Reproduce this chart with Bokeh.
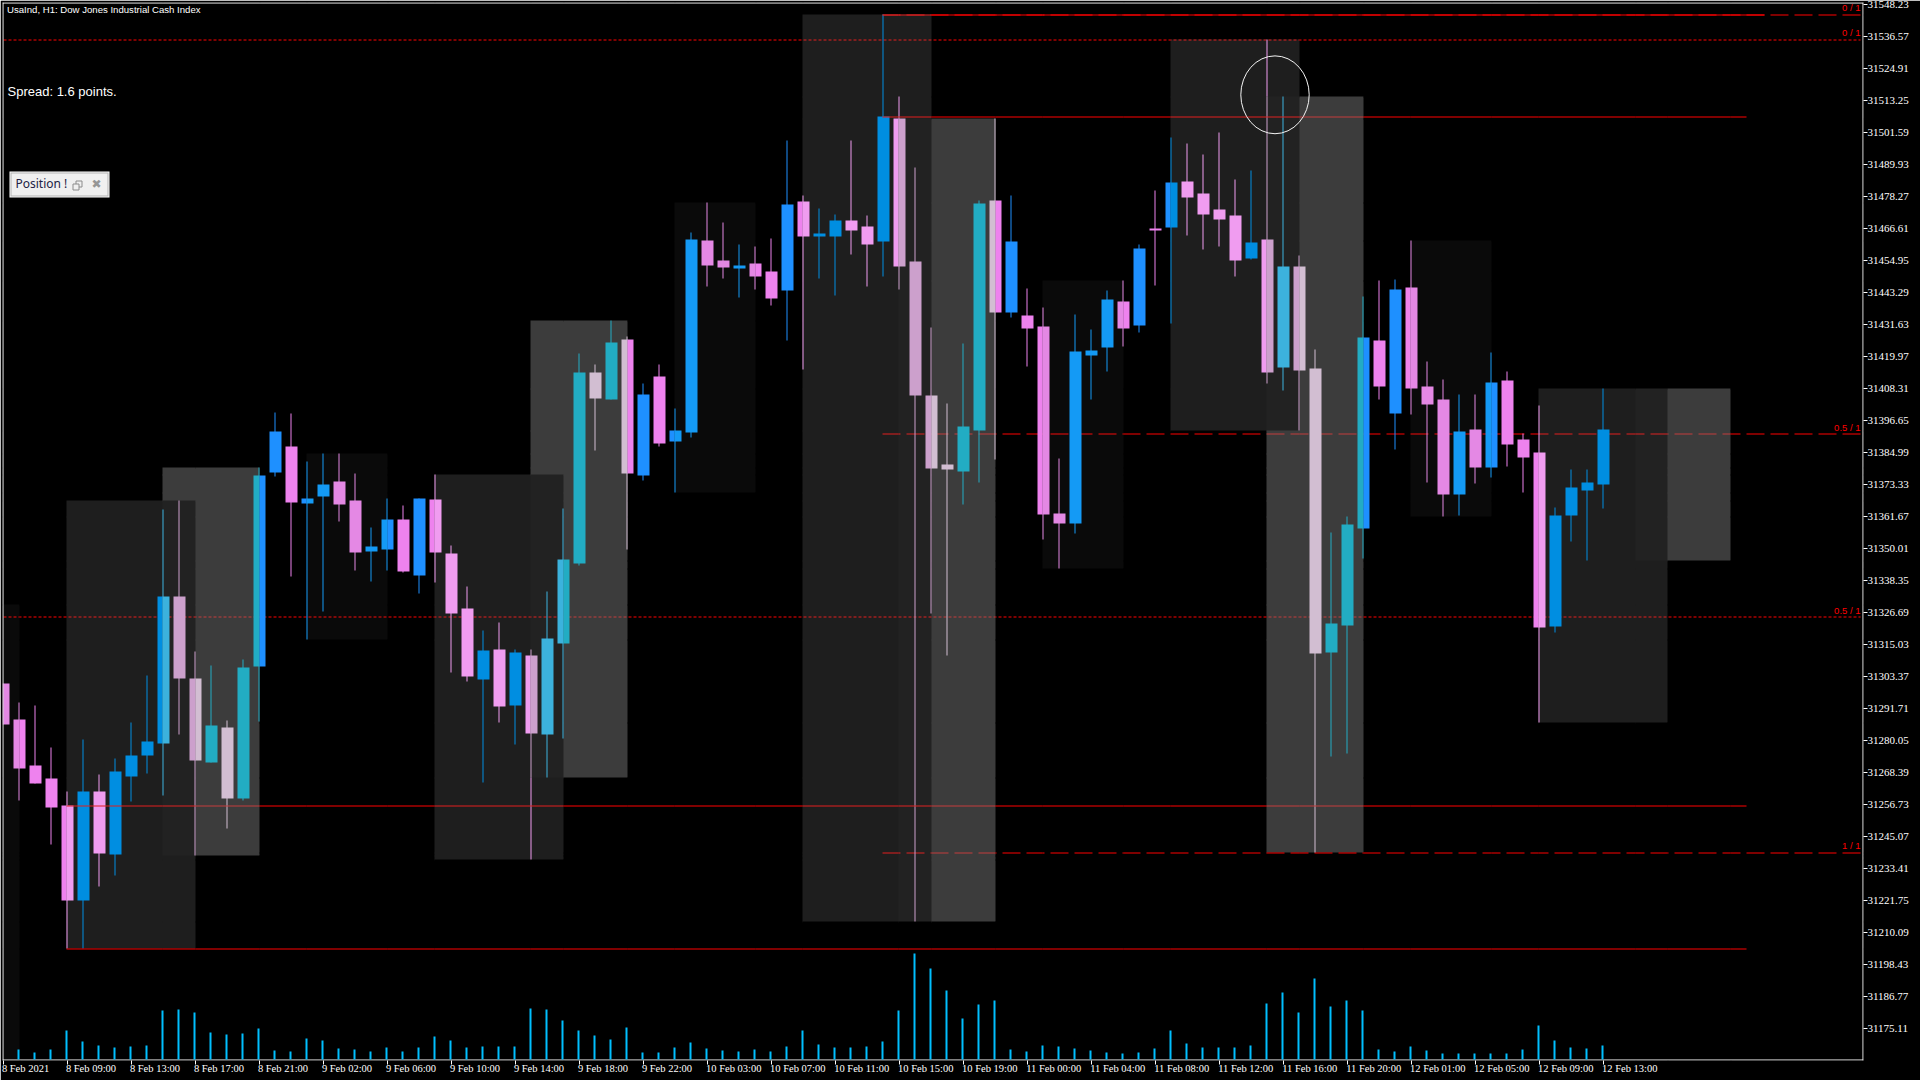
from bokeh.plotting import figure
from bokeh.models import LinearAxis, FixedTicker, Range1d, ColumnDataSource
from bokeh.core.properties import value
from bokeh.embed import file_html
from bokeh.resources import INLINE

title_text = "UsaInd, H1:  Dow Jones Industrial Cash Index"
spread_text = "Spread: 1.6 points."
price_ticks = [31548.23,31536.57,31524.91,31513.25,31501.59,31489.93,31478.27,31466.61,31454.95,31443.29,31431.63,31419.97,31408.31,31396.65,31384.99,31373.33,31361.67,31350.01,31338.35,31326.69,31315.03,31303.37,31291.71,31280.05,31268.39,31256.73,31245.07,31233.41,31221.75,31210.09,31198.43,31186.77,31175.11]
time_labels = ["8 Feb 09:00","8 Feb 13:00","8 Feb 17:00","8 Feb 21:00","9 Feb 02:00","9 Feb 06:00","9 Feb 10:00","9 Feb 14:00","9 Feb 18:00","9 Feb 22:00","10 Feb 03:00","10 Feb 07:00","10 Feb 11:00","10 Feb 15:00","10 Feb 19:00","11 Feb 00:00","11 Feb 04:00","11 Feb 08:00","11 Feb 12:00","11 Feb 16:00","11 Feb 20:00","12 Feb 01:00","12 Feb 05:00","12 Feb 09:00","12 Feb 13:00"]
first_label = "8 Feb 2021"

bar_high = [31300.64,31293.72,31292.63,31277.32,31261.30,31280.24,31267.48,31273.31,31286.43,31303.55,31364.04,31367.32,31312.30,31307.20,31287.16,31309.38,31379.35,31399.39,31399.03,31381.54,31384.45,31384.45,31377.16,31357.48,31368.05,31365.50,31368.05,31376.79,31350.92,31335.98,31319.95,31322.86,31313.02,31313.02,31334.17,31364.41,31420.89,31416.88,31432.91,31427.08,31409.96,31416.88,31400.84,31464.97,31475.90,31468.61,31460.60,31459.87,31462.79,31498.50,31478.46,31473.72,31471.53,31498.50,31471.17,31544.41,31514.53,31488.66,31430.36,31402.67,31424.53,31476.63,31506.51,31478.46,31444.57,31437.65,31382.63,31435.10,31429.63,31443.84,31447.48,31460.60,31480.28,31499.59,31497.40,31493.40,31501.41,31484.29,31487.57,31535.30,31514.53,31456.59,31422.34,31355.66,31361.49,31441.66,31447.48,31447.85,31462.06,31417.97,31411.41,31405.95,31405.95,31421.25,31414.33,31391.74,31401.94,31364.77,31378.62,31378.62,31408.13]
bar_low = [31285.70,31258.01,31264.21,31241.97,31204.07,31204.07,31226.67,31230.68,31257.65,31267.85,31259.84,31282.06,31237.97,31271.86,31247.80,31258.01,31286.80,31376.06,31339.62,31316.67,31326.88,31359.67,31341.81,31337.81,31341.81,31341.08,31333.44,31337.44,31304.64,31301.37,31264.57,31286.43,31278.41,31236.51,31266.39,31280.60,31343.64,31385.54,31404.12,31349.46,31374.61,31386.99,31370.24,31390.28,31445.29,31448.20,31441.29,31444.20,31438.38,31425.62,31415.06,31448.20,31442.02,31456.96,31445.29,31448.94,31444.20,31213.92,31326.15,31310.84,31365.86,31373.88,31382.26,31434.00,31416.15,31353.11,31342.54,31355.30,31404.12,31414.33,31423.44,31428.54,31445.66,31431.82,31463.88,31458.78,31459.87,31448.94,31455.14,31409.96,31407.40,31392.83,31239.06,31274.04,31275.14,31346.19,31404.12,31385.91,31398.66,31373.88,31361.49,31361.86,31373.52,31375.70,31379.71,31370.24,31286.43,31319.22,31352.38,31345.46,31364.41]
body_top = [31300.64,31287.53,31270.77,31266.02,31256.19,31261.30,31261.30,31268.58,31274.41,31279.51,31332.34,31332.34,31302.45,31285.34,31284.61,31306.47,31376.43,31392.47,31386.99,31368.05,31373.15,31374.25,31367.32,31350.55,31360.40,31360.40,31368.05,31367.69,31348.01,31327.96,31312.66,31313.02,31311.93,31310.84,31317.03,31345.82,31413.96,31413.96,31424.89,31425.99,31405.95,31412.50,31392.83,31462.42,31462.06,31454.77,31452.95,31453.68,31450.76,31475.18,31476.27,31464.61,31469.35,31469.35,31467.16,31507.24,31506.51,31454.41,31405.58,31380.44,31394.29,31475.54,31476.63,31461.70,31434.73,31430.72,31362.59,31421.61,31421.98,31440.56,31439.83,31459.14,31466.43,31483.19,31483.56,31479.19,31473.36,31471.17,31461.33,31462.42,31452.59,31452.59,31415.42,31322.50,31358.58,31426.72,31425.62,31444.20,31444.93,31408.86,31404.12,31392.47,31393.19,31410.32,31411.05,31389.55,31384.81,31361.86,31372.06,31373.88,31393.19]
body_bottom = [31285.70,31269.67,31264.21,31255.46,31221.57,31221.57,31238.70,31238.33,31266.75,31274.41,31278.78,31302.45,31272.59,31271.86,31258.74,31258.74,31306.83,31377.52,31366.59,31366.23,31368.78,31365.86,31348.37,31348.74,31349.46,31341.45,31339.99,31348.37,31326.15,31303.18,31302.09,31292.26,31292.63,31282.43,31282.06,31315.21,31344.37,31404.49,31404.12,31377.16,31376.43,31388.09,31388.82,31392.10,31452.95,31452.22,31451.86,31448.94,31440.93,31443.84,31463.52,31463.52,31463.52,31465.70,31460.60,31461.70,31452.59,31405.58,31378.98,31378.62,31377.89,31392.83,31435.82,31435.82,31429.99,31362.22,31358.94,31358.94,31420.16,31423.07,31429.99,31431.09,31465.70,31466.80,31477.73,31471.53,31469.71,31454.77,31455.50,31413.96,31415.78,31414.69,31311.57,31311.93,31321.78,31357.12,31408.86,31399.03,31408.13,31402.30,31369.51,31369.51,31379.35,31379.35,31387.73,31382.99,31321.05,31321.41,31361.86,31370.97,31373.15]
direction = "d d d d d u d u u u u d d u d u u u d u u d d u u d u d d d u d u d u u u d u d u d u u d d u d d u d u u d d u d d d d u u d u d d d u u u d u d u d d d d u d u d d u u u d u d d d u d u d d d u u u u".split()
volume = [0,30,21,30,87,54,42,36,39,42,147,150,141,81,75,78,93,27,24,63,57,33,30,24,36,24,36,69,57,36,39,39,39,153,150,117,87,72,60,96,21,21,36,51,33,27,24,30,24,39,87,45,36,36,39,54,147,318,273,207,123,165,177,30,24,42,39,33,27,21,18,21,33,87,48,36,36,36,42,168,201,141,243,159,177,147,30,24,39,27,18,18,18,18,18,30,102,57,36,33,42]

rect_start = [0.0,3.9375,9.9375,18.9375,26.9375,32.9375,41.9375,49.9375,55.9375,64.9375,72.9375,78.9375,87.9375,95.9375,102.0]
rect_end = [1.0,12.0,16.0,24.0,35.0,39.0,47.0,58.0,62.0,70.0,81.0,85.0,93.0,104.0,107.9375]
rect_high = [31329.42,31367.32,31379.34,31384.44,31376.79,31432.91,31475.90,31544.40,31506.51,31447.48,31535.29,31514.53,31462.06,31408.13,31408.13]
rect_low = [31163.63,31204.08,31237.96,31316.67,31236.51,31266.39,31370.23,31213.92,31213.92,31342.54,31392.82,31239.06,31361.49,31286.43,31345.46]
rect_shade = [0x0A,0x1E,0x3C,0x0A,0x1E,0x3C,0x0A,0x1E,0x3C,0x0A,0x1E,0x3C,0x0A,0x1E,0x3C]

level_short_dash = [31535.29,31325.05]
level_long_dash = [31544.40,31391.73,31239.06]
level_solid = [31544.40,31507.24,31256.18,31204.08]
level_solid_start = [54.9375,54.9375,3.9375,3.9375]
level_solid_end = [110.0625,108.9375,108.9375,108.9375]

U = 0.364375; P0 = 31548.23; Y0 = 3.5
def Pof(Y): return P0 - (Y - Y0) * U
def Yof(v): return int(round(Y0 + (P0 - v) / U))
def Kof(X): return (X - 3) / 16
def Xof(k): return int(round(3 + 16 * k))

FL, FR, FT, FB = 2, 1863, 2, 1060
BLUE, PINK, RED, WHITE = 0x1E90FF, 0xEE82EE, 0xFF0000, 0xFFFFFF
rects = [(Xof(a), Xof(b), Yof(h), Yof(l), s) for a, b, h, l, s in zip(rect_start, rect_end, rect_high, rect_low, rect_shade)]
rects[0] = (rects[0][0], rects[0][1], rects[0][2], 1059, rects[0][4])

q = dict(left=[], right=[], top=[], bottom=[], color=[])
def put(X0, X1, Y_0, Y_1, col):
    q["left"].append(Kof(X0)); q["right"].append(Kof(X1))
    q["top"].append(Pof(Y_0)); q["bottom"].append(Pof(Y_1))
    q["color"].append("#%06X" % col)
def cover(a, c):
    g = 0
    for r in rects:
        if r[0] <= a < r[1] and r[2] <= c < r[3]:
            g ^= r[4]
    return g
def xor_quads(X0, X1, Y_0, Y_1, rgb):
    xs = sorted({X0, X1} | {e for r in rects for e in r[:2] if X0 < e < X1})
    ys = sorted({Y_0, Y_1} | {e for r in rects for e in r[2:4] if Y_0 < e < Y_1})
    for a, b in zip(xs, xs[1:]):
        start = ys[0]
        for c, d in zip(ys, ys[1:]):
            col = rgb ^ (cover(a, c) * 0x010101)
            nxt = rgb ^ (cover(a, d) * 0x010101)
            if d == ys[-1] or nxt != col:
                if col:
                    put(a, b, start, d, col)
                start = d

# shaded background: each cell overlaps the later ones by one pixel, so no seams show
xs = sorted({FL, FR} | {e for r in rects for e in r[:2]})
ys = sorted({FT, FB} | {e for r in rects for e in r[2:4]})
for a, b in zip(xs, xs[1:]):
    for c, d in zip(ys, ys[1:]):
        put(a, b + 1, c, d + 1, cover(a, c) * 0x010101)
for v in level_short_dash:
    Y = Yof(v)
    for X in range(3, 1860, 5):
        xor_quads(X, min(X + 3, 1860), Y, Y + 1, RED)
for v in level_long_dash:
    Y = Yof(v)
    for X in range(882, 1860, 24):
        xor_quads(X, min(X + 18, 1860), Y, Y + 1, RED)
for k, (h, l, t, b, d) in enumerate(zip(bar_high, bar_low, body_top, body_bottom, direction)):
    c = BLUE if d == "u" else PINK
    X = 3 + 16 * k
    if Yof(l) > Yof(h):
        xor_quads(X - 1, X, Yof(h), Yof(l), c)
    xor_quads(max(X - 6, 3), X + 6, Yof(t), max(Yof(b), Yof(t) + 1), c)
for v, a, b in zip(level_solid, level_solid_start, level_solid_end):
    Y = Yof(v)
    xor_quads(Xof(a), Xof(b), Y, Y + 1, RED)
put(2, 3, 2, 1060, WHITE); put(2, 1863, 2, 3, WHITE); put(1862, 1863, 2, 1060, WHITE); put(2, 1863, 1059, 1060, WHITE)
# Position panel
put(9, 109, 171, 197, WHITE); put(10, 108, 172, 196, 0xB4B4B4); put(11, 107, 173, 195, 0xF0F0F0)

p = figure(width=1920, height=1080, output_backend="svg", toolbar_location=None,
           x_range=Range1d(Kof(FL), Kof(FR)), y_range=Range1d(Pof(FB), Pof(FT)),
           x_axis_type=None, y_axis_type=None, background_fill_color="#000000",
           border_fill_color="#000000", outline_line_color=None,
           min_border_left=2, min_border_top=2, min_border_right=1920-FR, min_border_bottom=1080-FB)
p.extra_y_ranges["vol"] = Range1d(-3, 3171)

p.quad(left="left", right="right", top="top", bottom="bottom", fill_color="color", line_color=None,
       source=ColumnDataSource(q))
vol_x = list(range(len(volume)))
p.quad(left=[k - 2 / 16 for k in vol_x], right=vol_x, bottom=[0] * len(vol_x), top=volume,
       y_range_name="vol", fill_color="#00BFFF", line_color=None)
p.ellipse(x=[Kof(1274.5)], y=[Pof(94.3)], width=[68.4 / 16], height=[78 * U], fill_color=None,
          line_color="#F4F4F4", line_width=1)

# restore icon
p.quad(left=[Kof(75.5)], right=[Kof(81.5)], top=[Pof(180.5)], bottom=[Pof(186.5)], fill_color="#F0F0F0", line_color="#8C8C8C", line_width=1)
p.quad(left=[Kof(72.5)], right=[Kof(78.5)], top=[Pof(183.5)], bottom=[Pof(189.5)], fill_color="#F0F0F0", line_color="#8C8C8C", line_width=1)

def txt(X, Y, s, color, size, font="Liberation Sans", align="left"):
    p.text(x=[Kof(X)], y=[Pof(Y)], text=[s], text_color=color, text_font_size=size,
           text_font=value(font), text_align=align, text_baseline="middle")
txt(6.5, 8.5, title_text, "#FFFFFF", "9.6px")
txt(7, 90.5, spread_text, "#FFFFFF", "13px")
txt(15, 183, "Position !", "#222244", "12px", "Noto Sans")
txt(96, 183, "\u2716", "#969696", "12px", "DejaVu Sans", "center")
for Y, s in zip([7, 32, 427, 610, 845], ["0 / 1", "0 / 1", "0.5 / 1", "0.5 / 1", "1 / 1"]):
    txt(1860, Y, s, "#FF0000", "9.5px", "Liberation Sans", "right")

NARROW = "Liberation Sans Narrow"
yax = LinearAxis(ticker=FixedTicker(ticks=price_ticks),
                 major_label_overrides={v: "%.2f" % v for v in price_ticks},
                 axis_line_color=None, major_tick_line_color="#FFFFFF", major_tick_out=4, major_tick_in=0,
                 minor_tick_line_color=None, major_label_standoff=0,
                 major_label_text_color="#FFFFFF", major_label_text_font=NARROW, major_label_text_font_size="11px")
p.add_layout(yax, "right")

tick_k = [-0.03125] + [4 * (i + 1) - 0.03125 for i in range(len(time_labels))]
xax = LinearAxis(ticker=FixedTicker(ticks=tick_k), axis_line_color=None, major_tick_line_color="#FFFFFF",
                 major_tick_out=4, major_tick_in=0, minor_tick_line_color=None, major_label_standoff=0,
                 major_label_text_color=None, major_label_text_font_size="0px")
p.add_layout(xax, "below")
label_k = [1.375] + [4 * (i + 1) - 0.03125 + (1.5 if len(s) == 11 else 1.672) for i, s in enumerate(time_labels)]
lax = LinearAxis(ticker=FixedTicker(ticks=label_k),
                 major_label_overrides=dict(zip(label_k, [first_label] + time_labels)),
                 axis_line_color=None, major_tick_line_color=None, minor_tick_line_color=None,
                 major_tick_out=0, major_tick_in=0, minor_tick_out=0, minor_tick_in=0,
                 major_label_standoff=-2, major_label_text_color="#FFFFFF", major_label_text_font=NARROW,
                 major_label_text_font_size="10.5px")
p.add_layout(lax, "below")

open("out.html", "w").write(file_html(p, INLINE))
